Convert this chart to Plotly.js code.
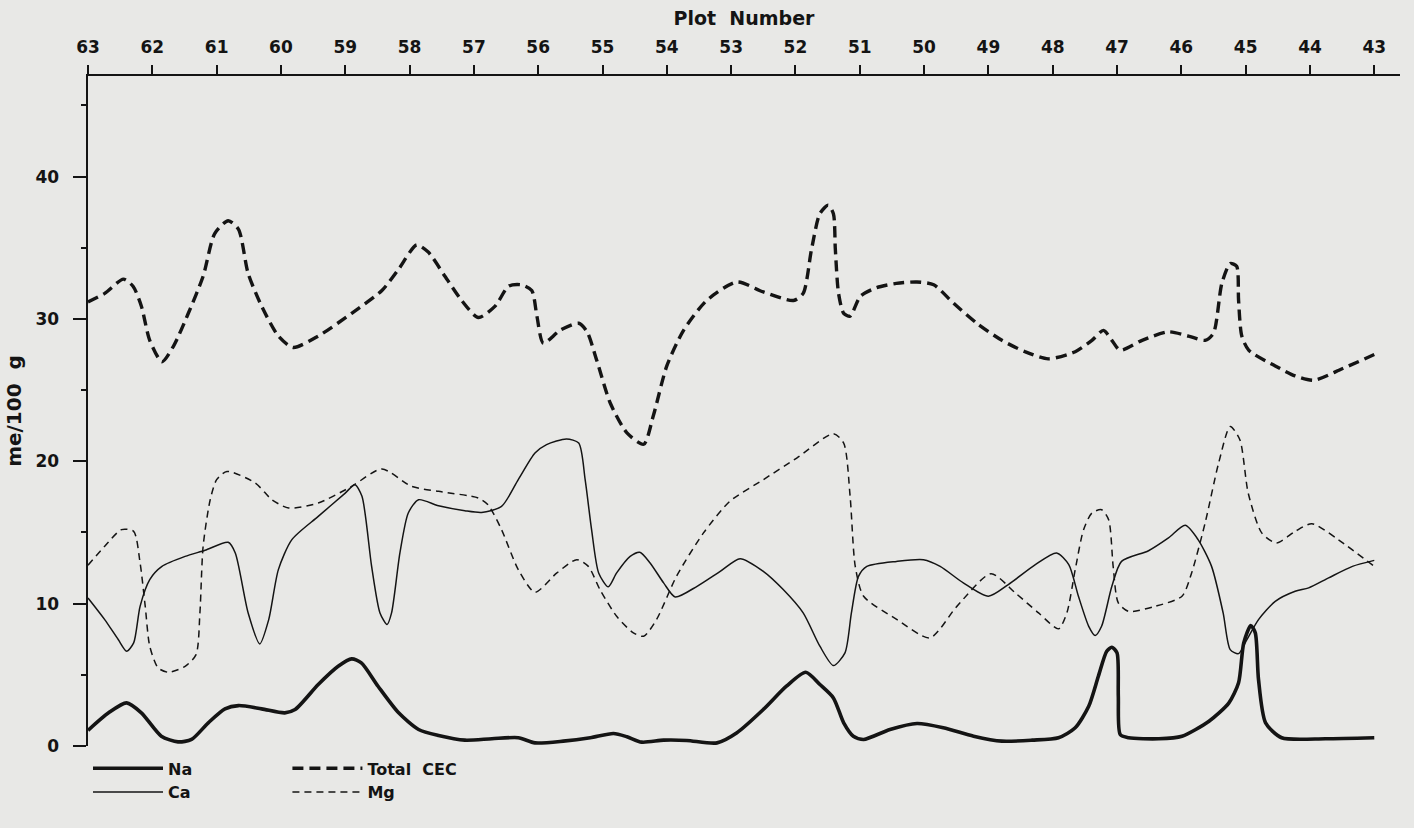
<!DOCTYPE html>
<html>
<head>
<meta charset="utf-8">
<script src="https://cdn.plot.ly/plotly-3.0.1.min.js"></script>
<style>
  html, body { margin: 0; padding: 0; background: #e8e8e6; }
  #chart { width: 1414px; height: 828px; }
</style>
</head>
<body>
<div id="chart"></div>
<script>
// Plot numbers (x) and values in me/100 g (y)
const plotTicks = [63, 62, 61, 60, 59, 58, 57, 56, 55, 54, 53, 52, 51, 50, 49, 48, 47, 46, 45, 44, 43];
const yMajorTicks = [0, 10, 20, 30, 40];
const yMinorTicks = [5, 15, 25, 35, 45];

const cecX = [63, 62.74, 62.45, 62.30, 62.17, 62.04, 61.85, 61.67, 61.44, 61.21, 61.03, 60.82, 60.66, 60.51, 60.30, 60.04, 59.81, 59.42, 58.90, 58.43, 58.17, 57.89, 57.71, 57.45, 57.19, 56.93, 56.67, 56.46, 56.26, 56.10, 56.02, 55.92, 55.66, 55.37, 55.24, 55.09, 54.88, 54.62, 54.36, 54.21, 54.00, 53.74, 53.38, 52.91, 52.50, 52.03, 51.88, 51.75, 51.62, 51.49, 51.41, 51.38, 51.33, 51.25, 51.15, 50.99, 50.74, 50.43, 50.11, 49.85, 49.54, 49.18, 48.79, 48.43, 48.07, 47.65, 47.39, 47.21, 47.08, 46.95, 46.61, 46.20, 45.89, 45.63, 45.50, 45.37, 45.24, 45.14, 45.11, 45.06, 44.95, 44.54, 44.23, 43.94, 43.50, 43.00];
const cecY = [31.2, 31.8, 32.8, 32.3, 30.9, 28.5, 27.0, 28.1, 30.4, 33.0, 36.0, 36.9, 36.3, 33.2, 30.9, 28.8, 28.0, 28.8, 30.4, 32.0, 33.5, 35.2, 34.7, 33.0, 31.3, 30.1, 30.9, 32.3, 32.4, 32.0, 30.2, 28.3, 29.2, 29.7, 29.1, 27.1, 24.1, 22.0, 21.2, 23.2, 26.7, 29.2, 31.3, 32.6, 31.9, 31.3, 31.8, 34.9, 37.4, 38.0, 37.4, 34.9, 31.8, 30.4, 30.2, 31.6, 32.2, 32.5, 32.6, 32.4, 31.1, 29.7, 28.5, 27.7, 27.2, 27.7, 28.5, 29.2, 28.5, 27.8, 28.5, 29.1, 28.8, 28.5, 29.0, 32.5, 33.9, 33.7, 31.3, 28.8, 27.8, 26.7, 26.0, 25.7, 26.5, 27.5];

const naX = [63, 62.68, 62.40, 62.17, 61.86, 61.60, 61.39, 61.13, 60.87, 60.66, 60.30, 59.94, 59.78, 59.42, 59.11, 58.90, 58.75, 58.49, 58.17, 57.86, 57.55, 57.14, 56.72, 56.31, 56.05, 55.61, 55.19, 54.83, 54.62, 54.39, 54.05, 53.69, 53.22, 52.91, 52.50, 52.14, 51.84, 51.62, 51.41, 51.25, 51.10, 50.94, 50.53, 50.11, 49.70, 49.23, 48.79, 48.32, 47.91, 47.65, 47.44, 47.29, 47.16, 47.08, 47.00, 46.98, 46.95, 46.82, 46.35, 45.99, 45.57, 45.26, 45.11, 45.03, 44.92, 44.85, 44.80, 44.69, 44.44, 43.76, 43.00];
const naY = [1.1, 2.33, 3.03, 2.33, 0.69, 0.29, 0.46, 1.63, 2.61, 2.84, 2.61, 2.33, 2.56, 4.32, 5.60, 6.12, 5.84, 4.20, 2.33, 1.16, 0.74, 0.41, 0.51, 0.58, 0.22, 0.34, 0.58, 0.88, 0.65, 0.27, 0.41, 0.39, 0.22, 0.93, 2.56, 4.20, 5.18, 4.32, 3.38, 1.63, 0.69, 0.46, 1.16, 1.58, 1.28, 0.69, 0.34, 0.41, 0.58, 1.28, 2.79, 4.90, 6.66, 6.94, 6.54, 3.50, 0.81, 0.58, 0.51, 0.69, 1.74, 3.03, 4.44, 7.24, 8.46, 7.95, 4.67, 1.63, 0.58, 0.51, 0.58];

const caX = [63, 62.74, 62.53, 62.40, 62.29, 62.19, 62.04, 61.85, 61.49, 61.18, 60.82, 60.71, 60.51, 60.33, 60.19, 60.04, 59.83, 59.42, 59.00, 58.85, 58.74, 58.59, 58.46, 58.35, 58.28, 58.15, 58.02, 57.86, 57.55, 57.14, 56.88, 56.57, 56.31, 56.05, 55.87, 55.56, 55.37, 55.27, 55.17, 55.06, 54.91, 54.78, 54.57, 54.42, 54.26, 54.05, 53.87, 53.53, 53.17, 52.86, 52.50, 52.19, 51.88, 51.62, 51.41, 51.23, 51.13, 51.02, 50.89, 50.43, 50.01, 49.75, 49.39, 49.00, 48.69, 48.27, 47.94, 47.75, 47.60, 47.44, 47.34, 47.24, 47.08, 46.93, 46.51, 46.20, 45.94, 45.74, 45.53, 45.35, 45.24, 45.11, 44.98, 44.80, 44.54, 44.23, 44.02, 43.71, 43.34, 43.00];
const caY = [10.4, 8.88, 7.48, 6.66, 7.24, 9.81, 11.69, 12.62, 13.32, 13.75, 14.31, 13.56, 9.35, 7.17, 8.88, 12.39, 14.50, 16.13, 17.77, 18.36, 17.54, 12.62, 9.35, 8.53, 9.35, 13.56, 16.37, 17.30, 16.88, 16.53, 16.41, 16.83, 18.71, 20.58, 21.17, 21.57, 21.28, 18.71, 15.20, 12.16, 11.18, 12.16, 13.32, 13.61, 12.86, 11.46, 10.47, 11.22, 12.27, 13.16, 12.27, 10.99, 9.35, 7.01, 5.65, 6.54, 9.35, 11.92, 12.62, 12.97, 13.09, 12.62, 11.46, 10.52, 11.34, 12.74, 13.56, 12.74, 10.52, 8.41, 7.76, 8.41, 11.22, 12.97, 13.72, 14.62, 15.50, 14.50, 12.62, 9.35, 6.77, 6.49, 7.48, 8.88, 10.16, 10.87, 11.11, 11.81, 12.62, 13.04];

const mgX = [63, 62.74, 62.48, 62.29, 62.19, 62.11, 62.04, 61.91, 61.75, 61.49, 61.32, 61.26, 61.21, 61.10, 61.00, 60.84, 60.40, 60.14, 59.88, 59.42, 58.90, 58.43, 57.97, 57.55, 56.93, 56.78, 56.57, 56.31, 56.05, 55.71, 55.40, 55.22, 55.04, 54.78, 54.52, 54.36, 54.16, 53.85, 53.43, 53.02, 52.50, 51.98, 51.41, 51.25, 51.15, 51.07, 50.94, 50.42, 49.91, 49.49, 48.96, 48.58, 48.22, 47.91, 47.78, 47.65, 47.52, 47.39, 47.24, 47.13, 47.06, 46.98, 46.82, 46.41, 45.99, 45.84, 45.63, 45.42, 45.24, 45.09, 44.96, 44.75, 44.52, 44.23, 43.97, 43.56, 43.00];
const mgY = [12.7, 14.03, 15.20, 15.08, 12.86, 9.81, 7.01, 5.49, 5.18, 5.60, 6.42, 9.35, 14.03, 17.30, 18.71, 19.29, 18.48, 17.30, 16.72, 17.07, 18.24, 19.46, 18.24, 17.89, 17.42, 16.95, 15.20, 12.39, 10.80, 12.16, 13.09, 12.62, 10.99, 9.11, 7.95, 7.71, 8.88, 11.92, 14.97, 17.19, 18.71, 20.23, 21.94, 21.28, 17.54, 12.62, 10.52, 8.88, 7.60, 9.81, 12.1, 10.75, 9.35, 8.23, 9.35, 12.39, 15.20, 16.37, 16.60, 15.90, 12.62, 10.05, 9.46, 9.81, 10.52, 12.16, 15.67, 19.88, 22.45, 21.52, 17.77, 14.97, 14.26, 15.08, 15.62, 14.50, 12.62];

const INK = '#141414';
const FONT = '"DejaVu Sans", sans-serif';

const traces = [
  { name: 'Na', x: naX, y: naY, type: 'scatter', mode: 'lines', legend: 'legend',
    line: { color: INK, width: 3.6, shape: 'spline', smoothing: 0.7 } },
  { name: 'Ca', x: caX, y: caY, type: 'scatter', mode: 'lines', legend: 'legend',
    line: { color: INK, width: 1.5, shape: 'spline', smoothing: 0.7 } },
  { name: 'Total  CEC', x: cecX, y: cecY, type: 'scatter', mode: 'lines', legend: 'legend2',
    line: { color: INK, width: 3.4, dash: '11px,6px', shape: 'spline', smoothing: 0.7 } },
  { name: 'Mg', x: mgX, y: mgY, type: 'scatter', mode: 'lines', legend: 'legend2',
    line: { color: INK, width: 1.5, dash: '7px,5px', shape: 'spline', smoothing: 0.7 } }
];

const tickFont = { family: FONT, size: 17, color: INK, weight: 'bold' };
const legendCommon = {
  orientation: 'v', xanchor: 'left', yanchor: 'top', y: -0.008,
  bgcolor: 'rgba(0,0,0,0)', borderwidth: 0, itemwidth: 70,
  font: { family: FONT, size: 16, color: INK, weight: 'bold' },
  traceorder: 'normal'
};

const layout = {
  width: 1414, height: 828,
  margin: { l: 88, r: 14, t: 76, b: 82 },
  paper_bgcolor: '#e8e8e6', plot_bgcolor: '#e8e8e6',
  showlegend: true,
  legend: Object.assign({}, legendCommon, { x: 0 }),
  legend2: Object.assign({}, legendCommon, { x: 0.152 }),
  xaxis: {
    side: 'top', range: [63, 42.6], autorange: false,
    tickmode: 'array', tickvals: plotTicks, ticktext: plotTicks.map(String),
    ticks: 'outside', ticklen: 9, tickwidth: 2, tickcolor: INK,
    showline: true, linewidth: 2.5, linecolor: INK,
    showgrid: false, zeroline: false, ticklabelstandoff: 5,
    tickfont: tickFont,
    title: { text: 'Plot  Number', font: { family: FONT, size: 19, color: INK, weight: 'bold' }, standoff: 6 }
  },
  yaxis: {
    range: [0, 47.07], autorange: false,
    tickmode: 'array', tickvals: yMajorTicks, ticktext: yMajorTicks.map(String),
    ticks: 'outside', ticklen: 13, tickwidth: 2, tickcolor: INK,
    minor: { tickmode: 'array', tickvals: yMinorTicks, ticks: 'outside', ticklen: 5, tickwidth: 2, tickcolor: INK, showgrid: false },
    showline: true, linewidth: 2.5, linecolor: INK,
    showgrid: false, zeroline: false, ticklabelstandoff: 10,
    tickfont: tickFont,
    title: { text: 'me/100  g', font: { family: FONT, size: 20, color: INK, weight: 'bold' }, standoff: 9 }
  }
};

Plotly.newPlot('chart', traces, layout, { displayModeBar: false, staticPlot: true });
</script>
</body>
</html>
